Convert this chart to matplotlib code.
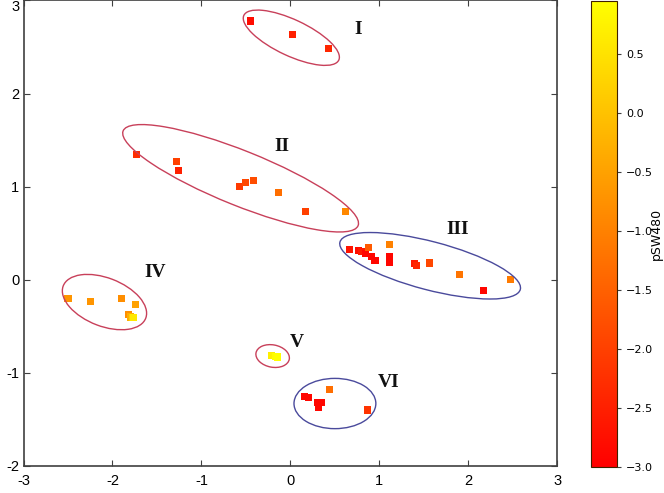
import matplotlib.pyplot as plt
from matplotlib.patches import Ellipse
from matplotlib.colors import Normalize

# cluster data (x, y, pSW480)
x_I = [-0.45, 0.02, 0.43]
y_I = [2.78, 2.63, 2.48]
c_I = [-2.8, -2.5, -2.4]

x_II = [-1.73, -1.28, -1.26, -0.57, -0.51, -0.41, -0.13, 0.17, 0.62]
y_II = [1.35, 1.27, 1.17, 1.00, 1.04, 1.07, 0.94, 0.73, 0.73]
c_II = [-2.3, -2.0, -2.5, -2.1, -1.9, -1.8, -1.3, -2.0, -0.9]

x_III = [0.66, 0.76, 0.80, 0.84, 0.88, 0.91, 0.95, 1.11, 1.11, 1.11, 1.39, 1.42, 1.56, 1.90, 2.17, 2.47]
y_III = [0.32, 0.31, 0.30, 0.28, 0.35, 0.25, 0.21, 0.38, 0.25, 0.19, 0.17, 0.15, 0.18, 0.06, -0.12, 0.00]
c_III = [-2.7, -2.8, -2.6, -2.9, -1.6, -2.9, -2.9, -1.0, -2.9, -2.9, -2.6, -2.4, -1.9, -1.2, -2.9, -1.1]

x_IV = [-2.50, -2.25, -1.90, -1.74, -1.82, -1.80, -1.78, -1.76]
y_IV = [-0.20, -0.23, -0.20, -0.27, -0.37, -0.40, -0.41, -0.41]
c_IV = [-0.7, -0.7, -0.8, -0.5, -0.8, -0.3, 0.2, 0.6]

x_V = [-0.21, -0.17, -0.15]
y_V = [-0.815, -0.826, -0.83]
c_V = [0.7, 0.9, 0.95]

x_VI = [0.44, 0.16, 0.20, 0.30, 0.35, 0.32, 0.87]
y_VI = [-1.18, -1.25, -1.27, -1.32, -1.32, -1.37, -1.40]
c_VI = [-1.3, -2.9, -2.9, -2.9, -2.9, -2.9, -2.2]

labels = ["I", "II", "III", "IV", "V", "VI"]
label_x = [0.76, -0.10, 1.88, -1.52, 0.07, 1.10]
label_y = [2.69, 1.43, 0.535, 0.08, -0.675, -1.10]

x_ticks = [-3, -2, -1, 0, 1, 2, 3]
y_ticks = [-2, -1, 0, 1, 2, 3]
cb_ticks = [0.5, 0.0, -0.5, -1.0, -1.5, -2.0, -2.5, -3.0]

# ellipses: center x, center y, width, height, angle
ell_cx = [0.01, -0.56, 1.57, -2.09, -0.20, 0.50]
ell_cy = [2.60, 1.09, 0.15, -0.24, -0.82, -1.33]
ell_w = [1.17, 2.83, 2.09, 0.99, 0.38, 0.92]
ell_h = [0.39, 0.59, 0.52, 0.52, 0.24, 0.54]
ell_ang = [-24, -21, -14, -20, -10, 0]
ell_col = ["#c8405a", "#c8405a", "#4a4a9c", "#c8405a", "#c8405a", "#4a4a9c"]

xs = x_I + x_II + x_III + x_IV + x_V + x_VI
ys = y_I + y_II + y_III + y_IV + y_V + y_VI
cs = c_I + c_II + c_III + c_IV + c_V + c_VI

fig = plt.figure(figsize=(6.64, 4.93), dpi=100)
ax = fig.add_axes([0.0354, 0.055, 0.804, 0.944])
cax = fig.add_axes([0.890, 0.0535, 0.039, 0.945])

norm = Normalize(vmin=-3.0, vmax=0.95)
sc = ax.scatter(xs, ys, c=cs, cmap="autumn", norm=norm, marker="s", s=26, linewidths=0)

for cx, cy, w, h, a, col in zip(ell_cx, ell_cy, ell_w, ell_h, ell_ang, ell_col):
    ax.add_patch(Ellipse((cx, cy), w, h, angle=a, fill=False, edgecolor=col, linewidth=1.0))

for lab, lx, ly in zip(labels, label_x, label_y):
    ax.text(lx, ly, lab, family="Liberation Serif", fontweight="bold", fontsize=14,
            ha="center", va="center", color="#111111")

ax.set_xlim(-3, 3)
ax.set_ylim(-2, 3)
ax.set_xticks(x_ticks)
ax.set_xticklabels([str(t) for t in x_ticks])
ax.set_yticks(y_ticks)
ax.set_yticklabels([str(t) for t in y_ticks])
ax.tick_params(direction="in", top=True, right=True, length=4, color="#404040",
               labelsize=10.5)
ax.tick_params(axis="y", pad=3)
ax.tick_params(axis="x", pad=6)
for lab in ax.get_xticklabels() + ax.get_yticklabels():
    lab.set_family("Liberation Sans")
# top label sits below the frame edge so it is not clipped
ax.get_yticklabels()[-1].set_va("top")
for sp in ax.spines.values():
    sp.set_color("#404040")
    sp.set_linewidth(1.2)

cb = fig.colorbar(sc, cax=cax)
cb.set_ticks(cb_ticks)
cb.ax.tick_params(labelsize=8, length=3, color="#404040")
cb.set_label("pSW480", fontsize=9, labelpad=-2)
cb.outline.set_edgecolor("#402000")

fig.savefig("out.png", dpi=100)
